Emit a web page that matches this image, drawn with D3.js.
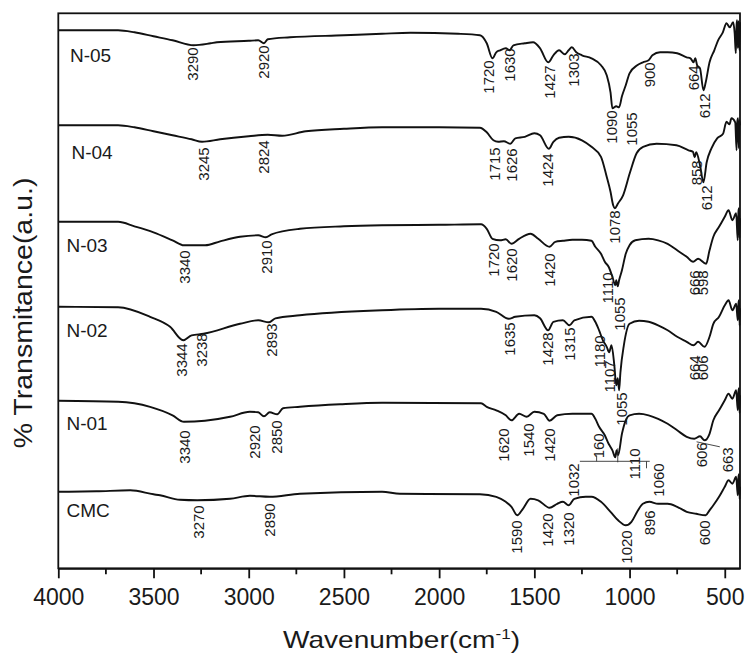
<!DOCTYPE html>
<html>
<head>
<meta charset="utf-8">
<script src="https://cdn.jsdelivr.net/npm/d3@7"></script>
<style>
  body { margin: 0; background: #fff; }
  text { font-family: "Liberation Sans", Arial, sans-serif; fill: #1a1a1a; }
</style>
</head>
<body>
<svg id="ftir" width="745" height="654"></svg>
<script>
//// data
// wavenumber ticks
var majorTicks = [4000, 3500, 3000, 2500, 2000, 1500, 1000, 500];
var minorTicks = [3750, 3250, 2750, 2250, 1750, 1250, 750];

var seriesNames = ["N-05", "N-04", "N-03", "N-02", "N-01", "CMC"];
// where the sample name sits (a.u.)
var nameLevels = [101.3, 81.9, 63.3, 46.3, 27.6, 10.2];

// spectra: [wavenumber, transmittance a.u. (stacked)]
var n05 = [[4000,107.6],[3686,107.6],[3600,107.2],[3500,106.4],[3400,105.6],[3290,104.6],[3200,105.0],[3167,105.2],
  [3000,105.5],[2950,105.6],[2920,105.0],[2900,105.8],[2783,106.2],[2500,106.6],[2300,106.9],[2150,107.1],[1900,106.9],
  [1786,106.6],[1750,105.0],[1720,102.0],[1700,103.2],[1680,103.6],[1650,104.0],[1630,103.6],[1610,104.6],[1550,105.0],
  [1507,105.2],[1470,104.0],[1427,101.2],[1400,102.6],[1370,103.6],[1340,102.8],[1320,103.6],[1303,104.2],[1280,103.2],
  [1250,102.6],[1200,102.0],[1150,100.6],[1120,98.6],[1100,95.2],[1090,92.0],[1070,92.4],[1055,92.2],[1040,94.4],
  [1020,96.6],[1000,99.0],[960,100.6],[930,101.2],[900,101.6],[880,102.6],[840,103.2],[800,103.2],[750,103.0],
  [700,102.2],[680,102.0],[664,101.2],[655,102.0],[645,100.6],[630,100.0],[612,95.6],[600,97.2],[580,101.2],
  [555,103.6],[535,105.6],[510,107.2],[491,109.0],[474,108.2],[456,109.2],[448,107.0],[442,103.0],[438,108.6],
  [435,109.6],[431,104.0],[428,109.4],[425,108.0],[422,103.5],[420,109.2]];

var n04 = [[4000,88.6],[3686,88.6],[3600,88.2],[3500,87.4],[3400,86.6],[3300,85.8],[3245,85.3],[3150,85.8],[3000,86.4],
  [2900,86.7],[2824,86.5],[2700,87.4],[2500,87.9],[2300,88.2],[2000,88.2],[1786,88.1],[1750,87.2],[1715,85.6],[1690,85.3],
  [1660,85.4],[1626,84.9],[1600,86.0],[1550,86.3],[1500,87.0],[1470,86.6],[1424,83.9],[1400,85.3],[1370,86.1],[1320,86.3],
  [1250,85.6],[1200,84.3],[1150,82.3],[1120,78.3],[1100,75.3],[1086,72.6],[1078,72.0],[1060,73.0],[1034,74.6],[999,79.0],
  [963,83.0],[929,84.3],[858,84.9],[754,84.6],[690,83.6],[667,83.3],[658,82.2],[650,83.2],[630,80.6],[612,77.2],
  [595,81.2],[570,84.0],[540,86.0],[509,86.9],[491,89.3],[475,88.8],[465,90.0],[445,89.2],[438,83.6],[434,89.4],
  [430,90.0],[426,84.0],[423,89.6],[420,88.6]];

var n03 = [[4000,69.3],[3686,69.3],[3600,68.4],[3500,67.2],[3400,65.6],[3340,64.6],[3229,64.6],[3150,65.4],[3046,66.3],
  [2950,66.6],[2910,66.2],[2880,66.8],[2731,67.9],[2500,68.4],[2300,68.6],[2000,68.7],[1780,68.8],[1750,67.9],[1720,65.9],
  [1680,65.6],[1650,65.8],[1620,64.9],[1580,65.9],[1520,66.9],[1480,65.9],[1420,64.3],[1390,65.3],[1350,65.5],[1300,65.7],
  [1250,65.7],[1200,65.5],[1180,64.3],[1150,62.9],[1130,61.3],[1110,60.3],[1090,58.3],[1075,56.6],[1070,57.6],[1062,56.4],
  [1055,57.6],[1040,59.6],[1020,62.9],[1000,64.6],[970,65.6],[900,65.9],[850,65.6],[800,64.9],[750,63.6],[700,62.3],
  [666,61.3],[640,61.9],[598,60.9],[580,63.6],[560,66.3],[530,68.3],[500,70.3],[480,71.6],[460,69.6],[440,71.0],
  [432,65.6],[428,71.4],[425,72.0],[422,66.0],[420,70.0]];

var n02 = [[4000,52.3],[3686,52.2],[3518,50.3],[3413,48.3],[3344,45.6],[3300,46.6],[3238,46.9],[3046,48.9],[2950,49.6],
  [2893,49.2],[2860,50.0],[2731,50.6],[2300,51.6],[2000,51.9],[1780,51.9],[1700,51.3],[1635,49.9],[1600,50.3],[1500,50.6],
  [1470,50.0],[1428,47.6],[1400,49.3],[1350,49.6],[1315,48.6],[1290,49.6],[1200,50.3],[1180,49.3],[1160,47.6],[1140,45.6],
  [1120,44.3],[1107,43.2],[1095,44.6],[1080,40.6],[1070,36.6],[1062,38.0],[1055,35.6],[1048,39.2],[1030,44.6],[1000,48.9],
  [950,49.5],[900,49.3],[850,48.6],[800,47.6],[750,46.3],[700,45.3],[664,44.6],[640,45.3],[606,44.3],[580,46.3],
  [560,48.9],[530,50.3],[500,52.6],[480,53.6],[460,51.6],[440,52.9],[432,49.6],[428,53.0],[425,53.6],[422,48.5],[420,52.0]];

var n01 = [[4000,33.5],[3686,33.3],[3518,32.3],[3400,30.6],[3340,29.3],[3230,29.5],[3098,30.3],[2994,31.3],[2950,31.2],
  [2920,30.4],[2890,31.2],[2850,30.8],[2820,32.0],[2731,32.3],[2520,32.8],[2300,33.1],[1780,33.0],[1750,32.3],[1700,31.6],
  [1650,30.6],[1620,29.6],[1580,30.9],[1540,30.3],[1500,31.3],[1450,30.9],[1420,29.5],[1380,30.6],[1300,30.9],[1200,30.9],
  [1180,29.9],[1160,28.3],[1130,26.6],[1110,24.9],[1090,23.6],[1075,22.2],[1068,23.6],[1060,22.6],[1040,26.9],[1020,29.6],
  [1000,30.6],[950,30.9],[900,30.6],[850,29.9],[800,28.9],[750,27.6],[700,26.3],[660,25.9],[630,26.4],[606,25.6],
  [580,26.9],[560,29.6],[530,31.6],[500,33.6],[480,34.9],[460,33.9],[440,35.6],[432,31.6],[428,35.4],[425,36.0],
  [422,31.0],[420,34.6]];

var cmc = [[4000,15.3],[3800,15.4],[3622,15.6],[3500,14.8],[3466,14.6],[3361,13.7],[3270,13.6],[3098,13.9],[2994,14.5],
  [2890,14.3],[2731,14.9],[2300,15.3],[2206,14.9],[1786,14.8],[1700,14.3],[1650,13.3],[1620,12.3],[1590,10.6],[1560,11.9],
  [1520,13.9],[1480,13.6],[1420,12.1],[1380,12.9],[1350,13.3],[1320,12.6],[1290,13.9],[1230,14.3],[1200,14.3],[1150,13.3],
  [1100,11.3],[1060,9.6],[1020,8.6],[990,9.3],[960,11.3],[930,12.9],[896,13.3],[850,12.9],[800,12.9],[750,12.3],
  [700,11.3],[650,10.9],[600,10.6],[580,11.6],[560,12.6],[530,14.3],[500,16.3],[480,17.6],[460,16.9],[440,18.3],
  [432,14.6],[428,18.2],[425,18.8],[422,13.8],[420,16.3]];

// peak labels: [text, wavenumber position, top (a.u.)]
var peaks05 = [["3290",3293,104.2],["2920",2924,104.6],["1720",1742,101.6],["1630",1629,104],["1427",1419,100.6],
  ["1303",1296,103],["1090",1095,91.6],["1055",990,91.2],["900",894,101.2],["664",666,100.6],["612",605,95]];
var peaks04 = [["3245",3239,84.2],["2824",2924,85.6],["1715",1707,84.2],["1626",1620,84],["1424",1428,83],
  ["1078",1077,71.6],["858",648,81.6],["612",596,76.6]];
var peaks03 = [["3340",3335,63.6],["2910",2906,65.6],["1720",1716,65],["1620",1620,64],["1420",1419,63],
  ["1110",1113,59.2],["1055",1051,54.2],["666",657,59.6],["598",614,59.6]];
var peaks02 = [["3344",3352,45],["3238",3247,47],["2893",2880,49],["1635",1629,49.2],["1428",1428,47.2],
  ["1315",1314,48.2],["1180",1156,46.6],["1107",1107,41.6],["1055",1042,35.2],["664",657,42.6],["606",614,42.6]];
var peaks01 = [["3340",3335,27.6],["2920",2967,28.6],["2850",2853,29.6],["1620",1664,28],["1540",1532,29],
  ["1420",1419,28],["160",1165,27],["1032",1296,21],["1110",972,24],["1060",850,21],["606",622,25.2],["663",483,24.2]];
var peaksCMC = [["3270",3265,12.6],["2890",2889,13],["1590",1593,9.6],["1420",1428,11],["1320",1322,11.2],
  ["1020",1016,7.6],["896",894,11.6],["600",605,9.6]];

// leader lines under N-01: [wn1, a.u.1, wn2, a.u.2]
var leaders01 = [[1261,21.4,894,21.4],[1173,22.6,1173,21.4],[1062,24,1062,21.2],[911,21.4,911,20],[648,25.3,526,24.3]];

var spectra = [n05, n04, n03, n02, n01, cmc];
var peakSets = [peaks05, peaks04, peaks03, peaks02, peaks01, peaksCMC];

//// drawing
var svg = d3.select("svg#ftir");

var x = d3.scaleLinear().domain([4000, 420]).range([58.3, 740]);
var y = d3.scaleLinear().domain([0, 111]).range([568.3, 13.3]);

var line = d3.line()
    .x(function(d) { return x(d[0]); })
    .y(function(d) { return y(d[1]); })
    .curve(d3.curveMonotoneX);

// spectra
svg.selectAll("path.spec")
   .data(spectra)
   .enter().append("path")
   .attr("class", "spec")
   .attr("d", line)
   .attr("fill", "none")
   .attr("stroke", "#111")
   .attr("stroke-width", 1.9)
   .attr("stroke-linejoin", "round");

// frame
svg.append("rect")
   .attr("x", x(4000))
   .attr("y", y(111))
   .attr("width", x(420) - x(4000))
   .attr("height", y(0) - y(111))
   .attr("fill", "none")
   .attr("stroke", "#111")
   .attr("stroke-width", 1.8);

// bottom axis
var xAxis = svg.append("g")
   .attr("transform", "translate(0," + y(0) + ")")
   .call(d3.axisBottom(x).tickValues(majorTicks).tickSize(10).tickPadding(10).tickSizeOuter(0)
         .tickFormat(d3.format("d")));
xAxis.select(".domain").attr("stroke", "#111").attr("stroke-width", 1.8);
xAxis.selectAll(".tick line").attr("stroke", "#111").attr("stroke-width", 1.8);
xAxis.selectAll(".tick text").style("font-size", "23px").attr("fill", "#1a1a1a")
     .style("font-family", "'Liberation Sans', Arial, sans-serif");

svg.append("g")
   .selectAll("line")
   .data(minorTicks)
   .enter().append("line")
   .attr("x1", function(d) { return x(d); })
   .attr("x2", function(d) { return x(d); })
   .attr("y1", y(0))
   .attr("y2", y(0) + 6)
   .attr("stroke", "#111")
   .attr("stroke-width", 1.8);

// axis titles
var xt = svg.append("text")
   .attr("transform", "translate(401.5,648) scale(1.22,1)")
   .attr("text-anchor", "middle")
   .style("font-size", "23px");
xt.append("tspan").text("Wavenumber(cm");
xt.append("tspan").attr("dy", -9).style("font-size", "14px").text("-1");
xt.append("tspan").attr("dy", 9).text(")");

svg.append("text")
   .attr("transform", "translate(31.5,313) rotate(-90) scale(1.14,1)")
   .attr("text-anchor", "middle")
   .style("font-size", "25px")
   .text("% Transmitance(a.u.)");

// sample names
svg.selectAll("text.name")
   .data(seriesNames)
   .enter().append("text")
   .attr("class", "name")
   .attr("x", function(d, i) { return i == 1 ? 71.5 : (i == 0 ? 70 : 66.5); })
   .attr("y", function(d, i) { return y(nameLevels[i]); })
   .style("font-size", "19px")
   .text(function(d) { return d; });

// peak labels
peakSets.forEach(function(set) {
  svg.append("g")
     .selectAll("text")
     .data(set)
     .enter().append("text")
     .attr("transform", function(d) { return "translate(" + x(d[1]) + "," + (y(d[2])) + ") rotate(-90)"; })
     .attr("text-anchor", "end")
     .attr("dy", "0.36em")
     .style("font-size", "15px")
     .attr("fill", "#222")
     .text(function(d) { return d[0]; });
});

// leader lines
svg.append("g")
   .selectAll("line")
   .data(leaders01)
   .enter().append("line")
   .attr("x1", function(d) { return x(d[0]); })
   .attr("y1", function(d) { return y(d[1]); })
   .attr("x2", function(d) { return x(d[2]); })
   .attr("y2", function(d) { return y(d[3]); })
   .attr("stroke", "#333")
   .attr("stroke-width", 0.9);
</script>
</body>
</html>
